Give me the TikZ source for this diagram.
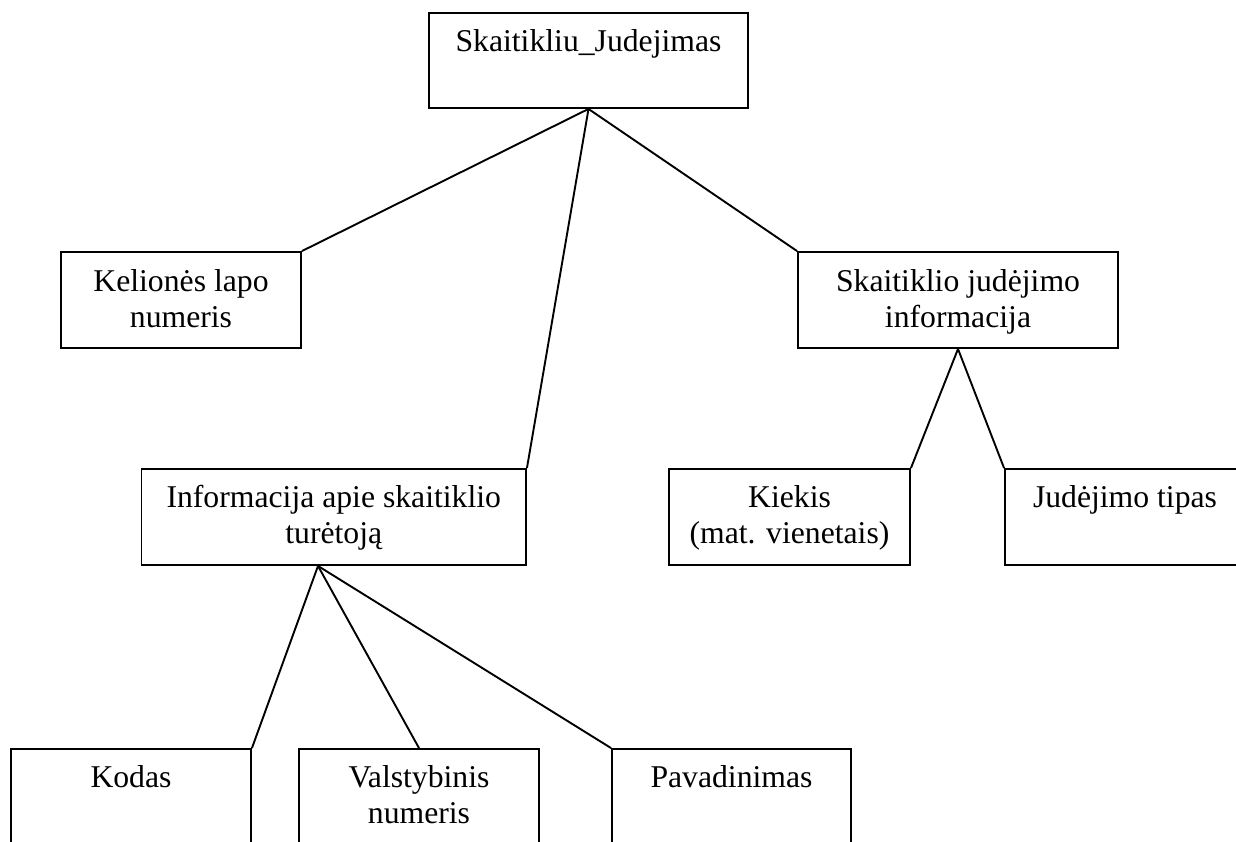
\documentclass[tikz,border=0pt]{standalone}
\usepackage{fontspec}
\setmainfont{Liberation Serif}
\begin{document}
\begin{tikzpicture}[x=1pt,y=-1pt,
  box/.style={draw,line width=1.9pt,rectangle,inner sep=0pt,minimum height=96pt},
  lbl/.style={anchor=base,align=center,inner sep=0pt,font=\fontsize{31.7pt}{36.5pt}\selectfont},
  conn/.style={line width=1.9pt}]
\clip (0,0) rectangle (1236,841);
\fill[white] (0,0) rectangle (1236,841);
% boxes
\node[box,minimum width=319pt,minimum height=95pt] (top) at (588.5,60.5) {};
\node[box,minimum width=240pt] (kel) at (181,300) {};
\node[box,minimum width=320pt] (sji) at (958,300) {};
\node[box,minimum width=384.5pt] (inf) at (333.75,517) {};
\node[box,minimum width=241pt] (kiek) at (789.5,517) {};
\node[box,minimum width=240pt] (jt) at (1125,517) {};
\node[box,minimum width=240pt] (kod) at (131,797) {};
\node[box,minimum width=240pt] (val) at (419,797) {};
\node[box,minimum width=239pt] (pav) at (731.5,797) {};
% texts (base anchor = baseline of last line)
\node[lbl] (ttop) at ([yshift=-39pt]top.north) {Skaitikliu\_Judejimas};
\node[lbl] (tkel) at ([yshift=-76.5pt]kel.north) {Kelionės lapo\\numeris};
\node[lbl] (tsji) at ([yshift=-76.5pt]sji.north) {Skaitiklio judėjimo\\informacija};
\node[lbl] (tinf) at ([yshift=-75.5pt]inf.north) {Informacija apie skaitiklio\\turėtoją};
\node[lbl] (tkiek) at ([yshift=-75.5pt]kiek.north) {Kiekis\\(mat. vienetais)};
\node[lbl] (tjt) at ([yshift=-39pt]jt.north) {Judėjimo tipas};
\node[lbl] (tkod) at ([yshift=-39pt]kod.north) {Kodas};
\node[lbl] (tval) at ([yshift=-75.5pt]val.north) {Valstybinis\\numeris};
\node[lbl] (tpav) at ([yshift=-39pt]pav.north) {Pavadinimas};
% connectors
\coordinate (infv) at ([xshift=-15.75pt]inf.south);
\draw[conn] (top.south) -- (kel.north east);
\draw[conn] (top.south) -- (sji.north west);
\draw[conn] (top.south) -- (inf.north east);
\draw[conn] (sji.south) -- (kiek.north east);
\draw[conn] (sji.south) -- (jt.north west);
\draw[conn] (infv) -- (kod.north east);
\draw[conn] (infv) -- (val.north);
\draw[conn] (infv) -- (pav.north west);
\end{tikzpicture}
\end{document}
